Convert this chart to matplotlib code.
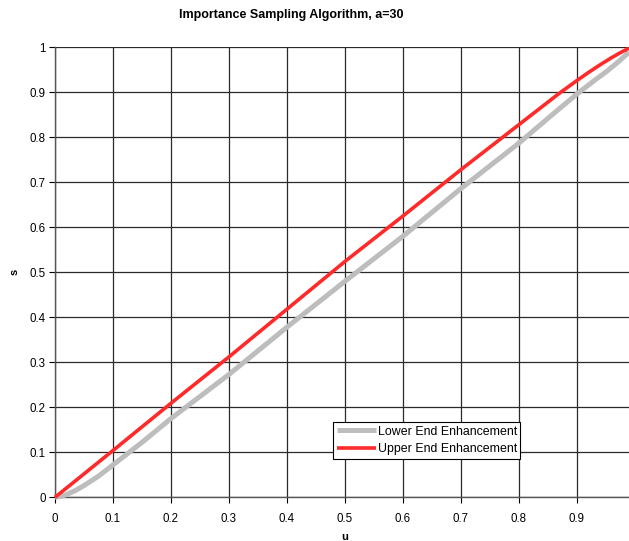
import matplotlib
matplotlib.use("Agg")
import matplotlib.pyplot as plt

plt.rcParams['font.family'] = ['Liberation Sans', 'DejaVu Sans']

# Sample points of the two mapping curves s(u)
u_lower = [0.0, 0.01, 0.02, 0.035, 0.05, 0.075, 0.10, 0.15, 0.20, 0.30, 0.40, 0.50, 0.60,
           0.70, 0.80, 0.85, 0.90, 0.93, 0.95, 0.97, 0.99]
s_lower = [0.0, 0.002, 0.006, 0.015, 0.026, 0.047, 0.072, 0.122, 0.175, 0.273, 0.378, 0.480,
           0.580, 0.686, 0.787, 0.842, 0.896, 0.926, 0.945, 0.966, 0.989]

u_upper = [0.0, 0.05, 0.10, 0.20, 0.30, 0.40, 0.50, 0.60, 0.70, 0.80, 0.84, 0.87, 0.90,
           0.92, 0.94, 0.96, 0.975, 0.99]
s_upper = [0.0, 0.052, 0.104, 0.209, 0.312, 0.418, 0.524, 0.625, 0.728, 0.828, 0.868, 0.898,
           0.926, 0.944, 0.961, 0.977, 0.988, 0.998]

x_ticks = [0, 0.1, 0.2, 0.3, 0.4, 0.5, 0.6, 0.7, 0.8, 0.9]
x_tick_labels = ['0', '0.1', '0.2', '0.3', '0.4', '0.5', '0.6', '0.7', '0.8', '0.9']
y_ticks = [0, 0.1, 0.2, 0.3, 0.4, 0.5, 0.6, 0.7, 0.8, 0.9, 1.0]
y_tick_labels = ['0', '0.1', '0.2', '0.3', '0.4', '0.5', '0.6', '0.7', '0.8', '0.9', '1']

title = 'Importance Sampling Algorithm, a=30'
series_names = ['Lower End Enhancement', 'Upper End Enhancement']

W, H = 629, 541
fig = plt.figure(figsize=(W / 100, H / 100), dpi=100)
left, right = 55 / W, 1.0
bottom, top = (H - 497.3) / H, (H - 47.3) / H
ax = fig.add_axes([left, bottom, right - left, top - bottom])

ax.set_xlim(0, 0.99)
ax.set_ylim(0, 1)

ax.set_xticks(x_ticks)
ax.set_xticklabels(x_tick_labels)
ax.set_yticks(y_ticks)
ax.set_yticklabels(y_tick_labels)
ax.tick_params(axis='both', direction='out', length=4, width=0.8, colors='black',
               labelsize=8.3)
ax.tick_params(axis='y', pad=2.5)
ax.tick_params(axis='x', pad=7)

ax.grid(True, color='#2a2a2a', linewidth=0.9)
ax.set_axisbelow(True)
for side in ('top', 'right'):
    ax.spines[side].set_visible(False)
for side in ('left', 'bottom'):
    ax.spines[side].set_color('#555555')
    ax.spines[side].set_linewidth(1.0)

ax.plot(u_lower, s_lower, color='#bdbdbd', linewidth=3.6, solid_capstyle='butt',
        solid_joinstyle='round', label=series_names[0], clip_on=False, zorder=3)
ax.plot(u_upper, s_upper, color='#ff2a2a', linewidth=2.6, solid_capstyle='butt',
        solid_joinstyle='round', label=series_names[1], clip_on=False, zorder=4)

leg = ax.legend(loc='lower left', bbox_to_anchor=((333 - 55) / 574, (497.3 - 459) / 450),
                borderaxespad=0, fancybox=False, edgecolor='black', framealpha=1,
                fontsize=8.9, handlelength=3.15, handletextpad=0.15, borderpad=0.3,
                labelspacing=0.45)
leg.get_frame().set_linewidth(0.8)

fig.text(291 / W, 1 - 15 / H, title, ha='center', va='center', fontsize=9,
         fontweight='bold')
fig.text(345 / W, 1 - 537 / H, 'u', ha='center', va='center', fontsize=8, fontweight='bold')
fig.text(15 / W, 1 - 272 / H, 's', ha='center', va='center', fontsize=8, fontweight='bold',
         rotation=90)

fig.savefig('out.png', dpi=100)
